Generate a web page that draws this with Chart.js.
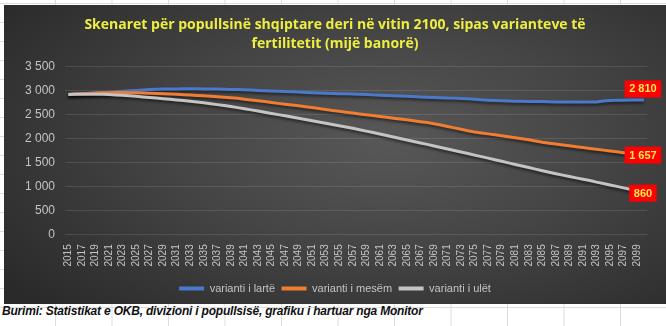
<!DOCTYPE html>
<html lang="sq">
<head>
<meta charset="UTF-8">
<title>Skenaret për popullsinë shqiptare deri në vitin 2100</title>
<script src="https://cdn.jsdelivr.net/npm/chart.js"></script>
<style>
  html, body { margin: 0; padding: 0; }
  body {
    width: 666px; height: 326px; overflow: hidden; position: relative;
    background-color: #fff;
    /* spreadsheet cells around the chart */
    background-image:
      linear-gradient(to right, #dcdcdc 1px, transparent 1px),
      linear-gradient(to bottom, #dcdcdc 1px, transparent 1px);
    background-size: 56.5px 19px;
    background-position: -1.5px 3px;
  }
  #panel {
    position: absolute; left: 4px; top: 5px; width: 662px; height: 299px;
    background: radial-gradient(ellipse 72% 80% at 58% 45%, #585858 0%, #454545 45%, #2a2a2a 100%);
  }
  #source {
    position: absolute; left: 2px; top: 304px; height: 17px; line-height: 17px;
    font: italic bold 12px "Liberation Sans Narrow", "Liberation Sans", sans-serif;
    letter-spacing: -0.2px; color: #111; white-space: nowrap;
  }
</style>
</head>
<body>
<div id="panel"><canvas id="chart" width="662" height="299"></canvas></div>
<div id="source">Burimi: Statistikat e OKB, divizioni i popullsisë, grafiku i hartuar nga Monitor</div>

<script>
// population in thousands, one value per year
const years = [
  2015, 2016, 2017, 2018, 2019, 2020, 2021, 2022, 2023, 2024,
  2025, 2026, 2027, 2028, 2029, 2030, 2031, 2032, 2033, 2034,
  2035, 2036, 2037, 2038, 2039, 2040, 2041, 2042, 2043, 2044,
  2045, 2046, 2047, 2048, 2049, 2050, 2051, 2052, 2053, 2054,
  2055, 2056, 2057, 2058, 2059, 2060, 2061, 2062, 2063, 2064,
  2065, 2066, 2067, 2068, 2069, 2070, 2071, 2072, 2073, 2074,
  2075, 2076, 2077, 2078, 2079, 2080, 2081, 2082, 2083, 2084,
  2085, 2086, 2087, 2088, 2089, 2090, 2091, 2092, 2093, 2094,
  2095, 2096, 2097, 2098, 2099, 2100
];

const high = [
  2925, 2932, 2940, 2948, 2956, 2964, 2972, 2981, 2990, 3000,
  3010, 3020, 3028, 3034, 3038, 3040, 3041, 3042, 3042, 3042,
  3041, 3040, 3038, 3035, 3031, 3026, 3021, 3016, 3010, 3004,
  2998, 2992, 2986, 2980, 2974, 2968, 2962, 2957, 2952, 2947,
  2942, 2937, 2932, 2927, 2922, 2916, 2910, 2904, 2898, 2892,
  2886, 2880, 2874, 2868, 2863, 2858, 2853, 2848, 2842, 2833,
  2822, 2812, 2806, 2800, 2794, 2788, 2784, 2781, 2779, 2778,
  2777, 2774, 2768, 2767, 2766, 2766, 2766, 2767, 2768, 2790,
  2800, 2804, 2806, 2808, 2809, 2810
];

const medium = [
  2925, 2932, 2940, 2947, 2953, 2958, 2962, 2964, 2964, 2963,
  2960, 2956, 2951, 2946, 2940, 2934, 2927, 2920, 2913, 2905,
  2896, 2887, 2877, 2866, 2855, 2843, 2825, 2810, 2794, 2776,
  2756, 2738, 2722, 2705, 2687, 2669, 2650, 2630, 2610, 2591,
  2572, 2553, 2535, 2517, 2500, 2483, 2465, 2447, 2429, 2412,
  2395, 2376, 2356, 2336, 2312, 2284, 2255, 2225, 2195, 2165,
  2140, 2120, 2100, 2080, 2060, 2040, 2020, 1998, 1975, 1950,
  1926, 1906, 1887, 1868, 1850, 1832, 1814, 1796, 1778, 1760,
  1742, 1724, 1706, 1688, 1672, 1657
];

const low = [
  2925, 2928, 2930, 2931, 2930, 2928, 2922, 2915, 2906, 2896,
  2885, 2874, 2862, 2850, 2837, 2824, 2811, 2797, 2782, 2766,
  2749, 2731, 2712, 2692, 2671, 2649, 2626, 2602, 2578, 2553,
  2528, 2503, 2478, 2452, 2426, 2400, 2374, 2348, 2322, 2296,
  2270, 2243, 2216, 2188, 2158, 2127, 2096, 2065, 2035, 2004,
  1973, 1942, 1911, 1880, 1848, 1816, 1784, 1752, 1720, 1688,
  1656, 1624, 1592, 1560, 1527, 1494, 1461, 1428, 1395, 1362,
  1330, 1298, 1267, 1237, 1208, 1180, 1152, 1125, 1090, 1061,
  1032, 1002, 971, 939, 900, 860
];

const seriesNames = ['varianti i lartë', 'varianti i mesëm', 'varianti i ulët'];
const seriesColors = ['#4a78cc', '#f07d32', '#c4c4c4'];

const titleLines = [
  'Skenaret për popullsinë shqiptare deri në vitin 2100, sipas varianteve të',
  'fertilitetit (mijë banorë)'
];

const narrow = '"Liberation Sans Narrow", "Liberation Sans", sans-serif';

// 2810 -> "2 810"
function spaced(v) {
  if (v < 1000) return String(v);
  return Math.floor(v / 1000) + ' ' + String(v % 1000).padStart(3, '0');
}

// shadow under the lines + red value boxes on the last point
const endLabels = {
  id: 'endLabels',
  beforeDatasetsDraw(chart) {
    const ctx = chart.ctx;
    ctx.save();
    ctx.shadowColor = 'rgba(0,0,0,0.55)';
    ctx.shadowBlur = 3;
    ctx.shadowOffsetY = 2;
  },
  afterDatasetsDraw(chart) {
    const ctx = chart.ctx;
    ctx.restore();
    ctx.save();
    ctx.font = 'bold 11px ' + narrow;
    ctx.textAlign = 'center';
    ctx.textBaseline = 'middle';
    chart.data.datasets.forEach((ds, i) => {
      const meta = chart.getDatasetMeta(i);
      const pt = meta.data[meta.data.length - 1];
      const text = spaced(ds.data[ds.data.length - 1]);
      const w = ctx.measureText(text).width + 9;
      const h = 17;
      const cx = pt.x - 1;
      const cy = i === 0 ? pt.y - 11 : pt.y;
      ctx.fillStyle = '#ff0000';
      ctx.fillRect(cx - w / 2, cy - h / 2, w, h);
      ctx.fillStyle = '#ffe84a';
      ctx.fillText(text, cx, cy + 0.5);
    });
    ctx.restore();
  }
};

const datasets = [high, medium, low].map((vals, i) => ({
  label: seriesNames[i],
  data: vals,
  borderColor: seriesColors[i],
  backgroundColor: seriesColors[i],
  borderWidth: 3,
  pointRadius: 0,
  tension: 0,
  order: 3 - i
}));

new Chart(document.getElementById('chart'), {
  type: 'line',
  data: { labels: years, datasets: datasets },
  plugins: [endLabels],
  options: {
    responsive: false,
    animation: false,
    devicePixelRatio: 1,
    layout: { padding: { left: 11, right: 11, top: 0, bottom: 0 } },
    plugins: {
      tooltip: { enabled: false },
      title: {
        display: true,
        text: titleLines,
        color: '#eeee40',
        font: { family: '"Open Sans", sans-serif', size: 14, weight: 'bold', lineHeight: 1.32 },
        padding: { top: 11, bottom: 14 }
      },
      legend: {
        position: 'bottom',
        labels: {
          color: '#c4c4c4',
          font: { family: narrow, size: 11 },
          boxWidth: 25,
          boxHeight: 4,
          padding: 6.5,
          sort: (a, b) => a.datasetIndex - b.datasetIndex,
          generateLabels: (chart) =>
            Chart.defaults.plugins.legend.labels.generateLabels(chart)
              .map(l => Object.assign(l, { lineWidth: 0 }))
        }
      }
    },
    scales: {
      x: {
        offset: true,
        grid: { display: false, drawTicks: false },
        border: { display: false },
        ticks: {
          autoSkip: false,
          minRotation: 90,
          maxRotation: 90,
          padding: 10,
          color: '#c4c4c4',
          font: { family: narrow, size: 10 },
          callback: (v, i) => (i % 2 === 0 ? String(years[i]) : '')
        }
      },
      y: {
        min: 0,
        max: 3500,
        grid: { color: 'rgba(255,255,255,0.11)', drawTicks: false },
        border: { display: false },
        ticks: {
          stepSize: 500,
          padding: 10,
          color: '#c4c4c4',
          font: { family: narrow, size: 12 },
          callback: (v) => spaced(v)
        }
      }
    }
  }
});
</script>
</body>
</html>
